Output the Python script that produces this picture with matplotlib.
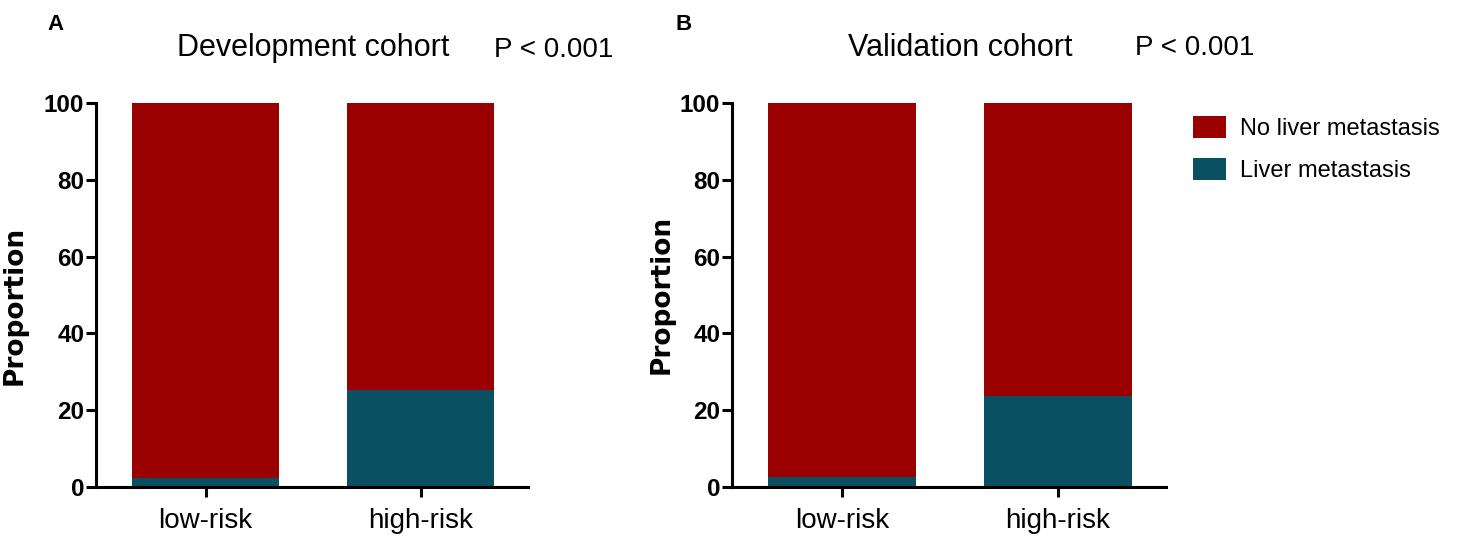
import matplotlib.pyplot as plt
from matplotlib.patches import Patch
import numpy as np

plt.rcParams['font.family'] = ['Liberation Sans', 'DejaVu Sans']

# dados
grupos = ['low-risk', 'high-risk']
coortes = ['Development cohort', 'Validation cohort']
letras = ['A', 'B']
p_valores = ['P < 0.001', 'P < 0.001']
metastase = [[2.3, 25.3], [2.7, 23.7]]
series = ['No liver metastasis', 'Liver metastasis']

cor_sem = '#9b0000'
cor_com = '#0b4f63'

fig = plt.figure(figsize=(14.75, 5.43), dpi=100)

# posicoes dos eixos em pixels (esquerda, direita)
eixos_px = [(96, 528), (732, 1166)]
rotulo_y = [(28, 305), (675, 294)]
base, topo = 487, 103
W, H = 1475, 543

for i, (x0, x1) in enumerate(eixos_px):
    ax = fig.add_axes([x0 / W, 1 - base / H, (x1 - x0) / W, (base - topo) / H])
    x = np.arange(len(grupos))
    com = np.array(metastase[i])
    sem = 100 - com
    ax.bar(x, com, width=0.685, color=cor_com, linewidth=0)
    ax.bar(x, sem, bottom=com, width=0.685, color=cor_sem, linewidth=0)
    ax.set_xlim(-0.51, 1.5)
    ax.set_ylim(0, 100)
    ax.set_yticks([0, 20, 40, 60, 80, 100])
    ax.set_xticks(x)
    ax.set_xticklabels(grupos, fontsize=20)
    for lab in ax.get_yticklabels():
        lab.set_fontsize(17.5)
        lab.set_fontweight('bold')
    ax.spines['top'].set_visible(False)
    ax.spines['right'].set_visible(False)
    ax.spines['left'].set_linewidth(2.2)
    ax.spines['bottom'].set_linewidth(2.2)
    ax.tick_params(axis='y', width=2.2, length=7, color='black', pad=1.5)
    ax.tick_params(axis='x', width=2.2, length=7, color='black', pad=8)
    ax.set_ylabel('Proportion', fontsize=19, fontweight='bold', family='DejaVu Sans')
    lx, ly = rotulo_y[i]
    ax.yaxis.set_label_coords((lx - x0) / (x1 - x0), (base - ly) / (base - topo))

fig.text(56 / W, 1 - 25 / H, letras[0], fontsize=16, fontweight='bold', ha='center', va='center')
fig.text(684 / W, 1 - 25 / H, letras[1], fontsize=16, fontweight='bold', ha='center', va='center')
fig.text(313 / W, 1 - 48 / H, coortes[0], fontsize=22, ha='center', va='center')
fig.text(554 / W, 1 - 50 / H, p_valores[0], fontsize=20, ha='center', va='center')
fig.text(960 / W, 1 - 48 / H, coortes[1], fontsize=22, ha='center', va='center')
fig.text(1195 / W, 1 - 48 / H, p_valores[1], fontsize=20, ha='center', va='center')

handles = [Patch(facecolor=cor_sem), Patch(facecolor=cor_com)]
fig.legend(handles, series, loc='upper left', bbox_to_anchor=(1193 / W, 1 - 116 / H),
           frameon=False, fontsize=17, handlelength=1.4, handleheight=1.07,
           handletextpad=0.6, labelspacing=0.75, borderpad=0, borderaxespad=0)

fig.savefig('out.png', dpi=100)
